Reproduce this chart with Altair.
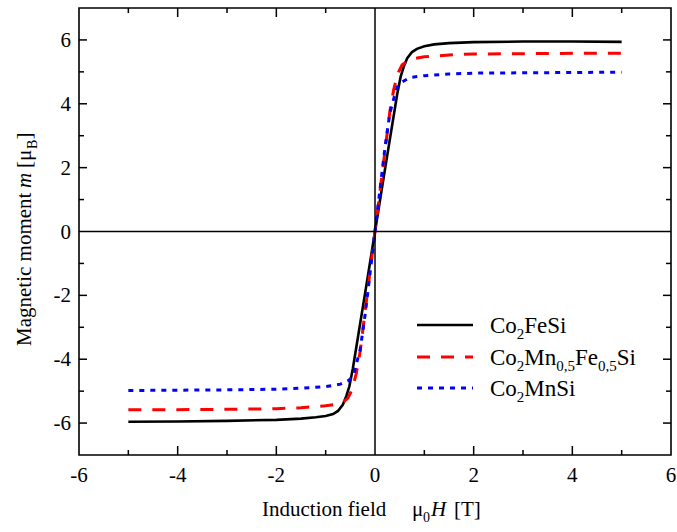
import altair as alt
import pandas as pd

# ---- data ----
fe_x = [-5, -4, -3, -2, -1.5, -1.2, -1.0, -0.85, -0.75, -0.65, -0.58, -0.52, -0.45, -0.35, -0.25, -0.15, 0,
        0.15, 0.25, 0.35, 0.45, 0.52, 0.58, 0.65, 0.75, 0.85, 1.0, 1.2, 1.5, 2, 3, 4, 5]
fe_y = [-5.96, -5.95, -5.93, -5.9, -5.86, -5.82, -5.78, -5.72, -5.62, -5.42, -5.15, -4.85, -4.3, -3.35, -2.4, -1.45, 0,
        1.45, 2.4, 3.35, 4.3, 4.85, 5.15, 5.42, 5.62, 5.72, 5.8, 5.86, 5.9, 5.93, 5.95, 5.95, 5.94]

mf_x = [-5, -4, -3, -2, -1.5, -1.0, -0.8, -0.65, -0.55, -0.48, -0.43, -0.38, -0.3, -0.2, -0.1, 0,
        0.1, 0.2, 0.3, 0.38, 0.43, 0.48, 0.55, 0.65, 0.8, 1.0, 1.5, 2, 3, 4, 5]
mf_y = [-5.58, -5.58, -5.57, -5.55, -5.52, -5.46, -5.42, -5.35, -5.22, -5.0, -4.75, -4.45, -3.75, -2.5, -1.25, 0,
        1.25, 2.5, 3.75, 4.45, 4.75, 5.0, 5.22, 5.33, 5.42, 5.47, 5.53, 5.56, 5.57, 5.58, 5.58]

mn_x = [-5, -4, -3, -2, -1.5, -1.0, -0.7, -0.55, -0.47, -0.42, -0.37, -0.3, -0.2, -0.1, 0,
        0.1, 0.2, 0.3, 0.37, 0.42, 0.47, 0.55, 0.7, 1.0, 1.5, 2, 3, 4, 5]
mn_y = [-4.98, -4.97, -4.96, -4.94, -4.91, -4.86, -4.78, -4.68, -4.58, -4.4, -4.1, -3.7, -2.6, -1.3, 0,
        1.3, 2.6, 3.7, 4.1, 4.4, 4.58, 4.68, 4.82, 4.88, 4.93, 4.96, 4.97, 4.98, 4.99]

x_labels = [-6, -4, -2, 0, 2, 4, 6]
y_labels = [-6, -4, -2, 0, 2, 4, 6]
x_major = [-4, -2, 2, 4]
x_minor = [-5, -3, -1, 1, 3, 5]
y_major = [-6, -4, -2, 2, 4, 6]
y_minor = [-5, -3, -1, 1, 3, 5]

FONT = "'Liberation Serif', 'Times New Roman', Times, 'DejaVu Serif', serif"
W, H = 592, 447
xs = alt.Scale(domain=[-6, 6], nice=False, zero=False)
ys = alt.Scale(domain=[-7, 7], nice=False, zero=False)


def series(xv, yv):
    return pd.DataFrame({"x": xv, "y": yv})


fe = alt.Chart(series(fe_x, fe_y)).mark_line(color="black", strokeWidth=2.6).encode(
    x=alt.X("x:Q", scale=xs, axis=None), y=alt.Y("y:Q", scale=ys, axis=None), order="x:Q")
mf = alt.Chart(series(mf_x, mf_y)).mark_line(color="#ff0000", strokeWidth=3, strokeDash=[13, 11]).encode(
    x=alt.X("x:Q", scale=xs, axis=None), y=alt.Y("y:Q", scale=ys, axis=None), order="x:Q")
mn = alt.Chart(series(mn_x, mn_y)).mark_line(color="#0000ff", strokeWidth=3, strokeDash=[5, 6]).encode(
    x=alt.X("x:Q", scale=xs, axis=None), y=alt.Y("y:Q", scale=ys, axis=None), order="x:Q")

zero_df = pd.DataFrame({"v": [0]})
vzero = alt.Chart(zero_df).mark_rule(color="black", strokeWidth=1.5).encode(
    x=alt.X("v:Q", scale=xs, axis=None))
hzero = alt.Chart(zero_df).mark_rule(color="black", strokeWidth=1.5).encode(
    y=alt.Y("v:Q", scale=ys, axis=None))


def xticks(vals, length):
    d = pd.DataFrame({"v": vals})
    bottom = alt.Chart(d).mark_rule(color="black", strokeWidth=1.5).encode(
        x=alt.X("v:Q", scale=xs, axis=None), y=alt.value(H), y2=alt.value(H - length))
    top = alt.Chart(d).mark_rule(color="black", strokeWidth=1.5).encode(
        x=alt.X("v:Q", scale=xs, axis=None), y=alt.value(0), y2=alt.value(length))
    return [bottom, top]


def yticks(vals, length):
    d = pd.DataFrame({"v": vals})
    left = alt.Chart(d).mark_rule(color="black", strokeWidth=1.5).encode(
        y=alt.Y("v:Q", scale=ys, axis=None), x=alt.value(0), x2=alt.value(length))
    right = alt.Chart(d).mark_rule(color="black", strokeWidth=1.5).encode(
        y=alt.Y("v:Q", scale=ys, axis=None), x=alt.value(W), x2=alt.value(W - length))
    return [left, right]


ticks = xticks(x_major, 9) + xticks(x_minor, 5) + yticks(y_major, 8) + yticks(y_minor, 5)

# tick labels, placed through the same scales
xl_df = pd.DataFrame({"v": x_labels, "lab": [str(v) for v in x_labels]})
yl_df = pd.DataFrame({"v": y_labels, "lab": [str(v) for v in y_labels]})
xlab = alt.Chart(xl_df).mark_text(font=FONT, fontSize=21, align="center", baseline="alphabetic",
                                  color="black").encode(
    x=alt.X("v:Q", scale=xs, axis=None), y=alt.value(H + 27), text="lab:N")
ylab = alt.Chart(yl_df).mark_text(font=FONT, fontSize=21, align="right", baseline="alphabetic",
                                  dy=7, dx=-8, color="black").encode(
    y=alt.Y("v:Q", scale=ys, axis=None), x=alt.value(0), text="lab:N")


# ---- text fragments (titles and legend) ----
def text_layer(rows, size, style="normal", angle=0):
    d = pd.DataFrame(rows, columns=["t", "px", "py"])
    return alt.Chart(d).mark_text(font=FONT, fontSize=size, fontStyle=style, angle=angle,
                                  align="left", baseline="alphabetic", color="black").encode(
        x=alt.X("px:Q", scale=None, axis=None), y=alt.Y("py:Q", scale=None, axis=None), text="t:N")


main_rows = [
    ["Induction field", 183, 508], ["μ", 333, 508], ["[T]", 375, 508],
    ["Co", 411, 325], ["FeSi", 445.3, 325],
    ["Co", 411, 357], ["Mn", 445.3, 357], ["Fe", 496, 357], ["Si", 537.8, 357],
    ["Co", 411, 388], ["MnSi", 445.3, 388],
]
sub_rows = [
    ["0", 344, 514],
    ["2", 437.8, 331], ["2", 437.8, 363], ["0,5", 477.2, 363], ["0,5", 519, 363], ["2", 437.8, 394],
]
ital_rows = [["H", 352, 508]]
rot_rows = [["Magnetic moment", -48, 338], ["[μ", -48, 160], ["]", -48, 131.5]]
rot_sub_rows = [["B", -42, 141]]
rot_ital_rows = [["m", -48, 180]]

texts = [
    text_layer(main_rows[:3], 21), text_layer(main_rows[3:], 23),
    text_layer(sub_rows[:1], 14), text_layer(sub_rows[1:], 15),
    text_layer(ital_rows, 21, "italic"),
    text_layer(rot_rows, 21, angle=270), text_layer(rot_sub_rows, 14, angle=270),
    text_layer(rot_ital_rows, 21, "italic", angle=270),
]


# ---- legend line samples ----
def leg_line(py, color, width, dash=None):
    d = pd.DataFrame({"a": [338], "b": [394], "c": [py]})
    kw = dict(color=color, strokeWidth=width)
    if dash:
        kw["strokeDash"] = dash
    return alt.Chart(d).mark_rule(**kw).encode(
        x=alt.X("a:Q", scale=None, axis=None), x2="b:Q", y=alt.Y("c:Q", scale=None, axis=None))


legend = [leg_line(317, "black", 2.6), leg_line(349, "#ff0000", 3, [13, 11]),
          leg_line(380, "#0000ff", 3, [5, 6])]

chart = alt.layer(fe, mf, mn, vzero, hzero, *ticks, xlab, ylab, *texts, *legend).properties(
    width=W, height=H,
    autosize=alt.AutoSizeParams(type="none"),
    padding={"left": 79, "top": 8, "right": 6, "bottom": 77},
    background="white",
).configure_view(stroke="black", strokeWidth=1.6)

chart.save("out.html", embed_options={"renderer": "svg", "actions": False})
